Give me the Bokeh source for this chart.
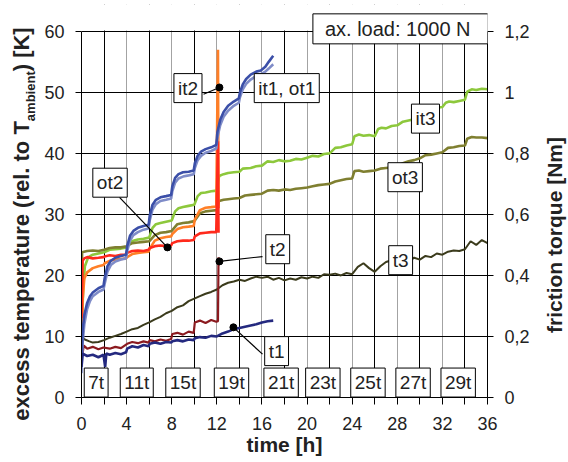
from bokeh.plotting import figure
from bokeh.models import Range1d, LinearAxis, FixedTicker, Grid, Label, BoxAnnotation, Div
from bokeh.layouts import row
from bokeh.embed import file_html
from bokeh.resources import INLINE

FONT = "Liberation Sans"

# ---------------- data ----------------
# series 1 (it1, ot1) -- excess temperature [K]
hours_1 = [0, 0.1, 0.25, 0.5, 0.75, 1.0, 1.5, 1.95, 2.05, 2.3, 2.6, 3.0, 3.5, 3.95,
           4.05, 4.3, 4.6, 5.0, 5.5, 5.95, 6.05, 6.3, 6.6, 7.0, 7.5, 7.95,
           8.05, 8.3, 8.6, 9.0, 9.5, 9.95, 10.05, 10.3, 10.6, 11.0, 11.5, 11.95,
           12.05, 12.3, 12.6, 13.0, 13.5, 13.95, 14.05, 14.3, 14.6, 15.0, 15.5, 15.9,
           16.3, 16.6, 17.0]
it1 = [6, 11, 13.5, 15.5, 16.6, 17.2, 17.9, 18.3, 19.5, 21.5, 22.4, 22.9, 23.2, 23.4,
       24.8, 26.5, 27.3, 27.8, 28.1, 28.3, 29.8, 31.6, 32.4, 32.8, 33.0, 33.2,
       34.6, 36.0, 36.6, 36.9, 37.0, 37.2, 38.4, 39.6, 40.3, 40.7, 41.0, 41.4,
       43.5, 45.5, 46.8, 47.8, 48.5, 49.0, 50.0, 51.3, 52.2, 52.9, 53.4, 53.6,
       54.2, 55.0, 56.0]
ot1 = [4, 9, 12, 14.5, 15.8, 16.6, 17.3, 17.7, 18.6, 20.6, 21.7, 22.3, 22.6, 22.8,
       24.0, 25.7, 26.6, 27.1, 27.5, 27.7, 29.0, 30.8, 31.7, 32.2, 32.4, 32.6,
       33.8, 35.2, 35.9, 36.2, 36.4, 36.6, 37.6, 38.9, 39.6, 40.1, 40.4, 40.8,
       42.6, 44.6, 46.0, 47.0, 47.8, 48.3, 49.2, 50.5, 51.4, 52.1, 52.7, 53.0,
       53.4, 53.9, 54.6]

# friction torque t1 [Nm]
hours_t1 = [0, 0.1, 0.5, 1.0, 1.5, 1.95, 2.1, 2.2, 2.5, 3.0, 3.5, 3.95, 4.05, 4.5, 5.0,
            5.5, 5.95, 6.05, 6.5, 7.0, 7.5, 7.95, 8.05, 8.5, 9.0, 9.5, 9.95, 10.05,
            10.5, 11.0, 11.5, 12.0, 12.5, 13.0, 13.5, 14.0, 14.5, 15.0, 15.5, 16.0,
            16.5, 17.0]
t1 = [0.100, 0.144, 0.136, 0.140, 0.132, 0.140, 0.100, 0.144, 0.140, 0.146, 0.142,
      0.148, 0.160, 0.168, 0.164, 0.172, 0.168, 0.176, 0.180, 0.176, 0.182, 0.180,
      0.184, 0.188, 0.184, 0.190, 0.188, 0.194, 0.198, 0.196, 0.202, 0.200, 0.210,
      0.216, 0.224, 0.228, 0.232, 0.236, 0.240, 0.246, 0.250, 0.252]

# series 2 (it2, ot2) -- excess temperature [K]
hours_2 = [0, 0.1, 0.25, 0.5, 1.0, 1.5, 1.95, 2.05, 2.5, 3.0, 3.5, 3.95, 4.05, 4.5,
           5.0, 5.5, 5.95, 6.05, 6.5, 7.0, 7.5, 7.95, 8.05, 8.5, 9.0, 9.5, 9.95,
           10.05, 10.5, 11.0, 11.5, 11.95, 12.1, 12.15]
it2 = [5, 16, 19.5, 20.5, 21.2, 21.5, 21.7, 22.0, 22.4, 22.6, 22.7, 22.8, 23.0, 23.5,
       23.7, 23.8, 23.9, 24.4, 25.7, 26.1, 26.3, 26.4, 26.8, 27.6, 27.9, 28.0, 28.1,
       29.2, 30.7, 31.1, 31.2, 31.3, 57.0, 31.0]
ot2 = [13, 22.4, 22.8, 23.0, 22.8, 22.9, 23.0, 23.1, 23.3, 23.2, 23.4, 23.4, 23.7, 24.0,
       24.1, 24.0, 24.2, 24.5, 24.8, 24.9, 24.8, 24.9, 25.3, 25.6, 25.7, 25.7, 25.8,
       26.4, 26.9, 27.0, 27.1, 27.1, 42.0, 27.0]

# friction torque t2 [Nm]
hours_t2 = [0, 0.2, 0.5, 1.0, 1.5, 1.95, 2.5, 3.0, 3.5, 4.05, 4.5, 5.0, 5.5, 5.95, 6.05,
            6.5, 7.0, 7.5, 7.95, 8.05, 8.5, 9.0, 9.5, 9.95, 10.05, 10.5, 11.0, 11.5,
            11.95, 12.1, 12.15]
t2 = [0.120, 0.170, 0.160, 0.166, 0.158, 0.164, 0.160, 0.166, 0.162, 0.176, 0.182,
      0.178, 0.184, 0.180, 0.188, 0.184, 0.190, 0.186, 0.192, 0.208, 0.212, 0.206,
      0.216, 0.212, 0.246, 0.252, 0.244, 0.254, 0.248, 0.250, 0.460]

# series 3 -- it3 [K]
hours_it3 = [0, 0.05, 0.15, 0.3, 0.6, 1.0, 1.5, 2.0, 2.5, 3.0, 3.5, 4.0, 4.3, 4.6, 5.0,
             5.5, 6.0, 6.3, 6.6, 7.0, 7.5, 8.0, 8.3, 8.6, 9.0, 9.5, 10.0, 10.3, 10.6,
             11.0, 11.5, 12.0, 12.2, 12.6, 13.0, 13.5, 14.0, 14.3, 15.0, 15.5, 16.0,
             16.5, 17.0, 17.5, 18.0, 18.5, 19.0, 19.5, 20.0, 20.5, 21.0, 21.5, 22.0,
             22.5, 23.0, 23.5, 24.0, 24.2, 24.6, 25.0, 25.5, 26.0, 26.3, 26.6, 27.0,
             27.5, 28.0, 28.5, 29.0, 29.5, 30.0, 30.3, 30.6, 31.0, 31.5, 32.0, 32.3,
             32.6, 33.0, 33.5, 34.0, 34.2, 34.6, 35.0, 35.5, 36.0]
it3 = [5, 12, 18, 21.5, 23.0, 23.4, 23.6, 23.8, 24.2, 24.3, 24.4, 24.6, 25.4, 25.7, 25.9,
       26.0, 26.2, 27.8, 28.4, 28.6, 28.8, 29.0, 30.5, 31.0, 31.2, 31.4, 31.6, 33.0, 33.5,
       33.6, 33.8, 33.9, 36.3, 36.6, 36.8, 36.9, 37.0, 37.5, 37.6, 37.9, 38.0,
       38.7, 38.6, 38.9, 38.7, 38.8, 39.1, 39.0, 39.3, 39.6, 39.5, 39.9, 40.0,
       40.9, 41.0, 41.3, 41.5, 42.8, 43.1, 42.9, 43.0, 42.8, 44.0, 44.2, 44.1,
       44.5, 44.6, 45.2, 45.4, 45.6, 45.8, 47.0, 47.3, 47.2, 47.5, 47.6, 48.3,
       48.5, 48.4, 48.6, 48.8, 50.1, 50.5, 50.4, 50.6, 50.5]

# series 3 -- ot3 [K]
hours_ot3 = [0, 0.05, 0.5, 1.0, 1.5, 2.0, 2.5, 3.0, 3.5, 4.0, 4.5, 5.0, 5.5, 6.0, 6.5,
             7.0, 7.5, 8.0, 8.5, 9.0, 9.5, 10.0, 10.5, 11.0, 11.5, 12.0, 12.2, 12.6,
             13.0, 13.5, 14.0, 14.5, 15.0, 15.5, 16.0, 16.5, 17.0, 17.5, 18.0, 18.5,
             19.0, 19.5, 20.0, 20.5, 21.0, 21.5, 22.0, 22.5, 23.0, 23.5, 24.0, 24.2,
             24.6, 25.0, 25.5, 26.0, 26.5, 27.0, 27.5, 28.0, 28.5, 29.0, 29.5, 30.0,
             30.5, 31.0, 31.5, 32.0, 32.5, 33.0, 33.5, 34.0, 34.2, 34.6, 35.0, 35.5, 36.0]
ot3 = [10, 23.8, 24.0, 24.1, 24.0, 24.2, 24.5, 24.6, 24.6, 24.8, 25.3, 25.4, 25.5, 25.6,
       26.6, 27.0, 27.1, 27.3, 28.4, 28.6, 28.7, 28.9, 30.2, 30.5, 30.6, 30.7, 32.2,
       32.4, 32.5, 32.6, 32.7, 33.1, 33.2, 33.3, 33.4, 33.9, 34.0, 33.9, 34.1, 34.0,
       34.2, 34.3, 34.4, 34.6, 34.8, 34.9, 35.0, 35.4, 35.6, 35.8, 35.9, 37.1,
       37.2, 37.0, 37.1, 37.2, 37.5, 37.6, 37.7, 37.8, 38.4, 38.7, 38.9, 39.2,
       39.7, 39.8, 40.0, 40.2, 40.9, 41.0, 41.2, 41.3, 42.4, 42.7, 42.6, 42.6, 42.5]

# friction torque t3 [Nm]
hours_t3 = [0, 0.3, 0.7, 1.0, 1.5, 2.0, 2.5, 3.0, 3.5, 4.0, 4.5, 5.0, 5.5, 6.0, 6.5,
            7.0, 7.5, 8.0, 8.5, 9.0, 9.5, 10.0, 10.5, 11.0, 11.5, 12.0, 12.5, 13.0,
            13.5, 14.0, 14.5, 15.0, 15.5, 16.0, 16.5, 17.0, 17.5, 18.0, 18.5, 19.0,
            19.5, 20.0, 20.5, 21.0, 21.5, 22.0, 22.5, 23.0, 23.5, 24.0, 24.5, 25.0,
            25.5, 26.0, 26.5, 27.0, 27.5, 28.0, 28.5, 29.0, 29.5, 30.0, 30.5, 31.0,
            31.5, 32.0, 32.5, 33.0, 33.5, 34.0, 34.5, 35.0, 35.5, 36.0]
t3 = [0.200, 0.190, 0.184, 0.180, 0.182, 0.188, 0.196, 0.202, 0.208, 0.216,
      0.224, 0.228, 0.238, 0.246, 0.256, 0.264, 0.276, 0.284, 0.296, 0.302,
      0.316, 0.324, 0.332, 0.340, 0.346, 0.354, 0.368, 0.376, 0.380, 0.386,
      0.382, 0.390, 0.396, 0.392, 0.396, 0.386, 0.392, 0.384, 0.390, 0.386,
      0.394, 0.390, 0.396, 0.392, 0.404, 0.402, 0.406, 0.400, 0.408, 0.404,
      0.428, 0.440, 0.424, 0.412, 0.430, 0.444, 0.450, 0.456, 0.442, 0.448,
      0.458, 0.452, 0.464, 0.460, 0.472, 0.468, 0.478, 0.482, 0.480, 0.486,
      0.512, 0.500, 0.516, 0.506]

# axes
x_ticks = [0, 4, 8, 12, 16, 20, 24, 28, 32, 36]
x_minor = [2, 6, 10, 14, 18, 22, 26, 30, 34]
y_ticks = [0, 10, 20, 30, 40, 50, 60]
torque_ticks = [0, 0.2, 0.4, 0.6, 0.8, 1.0, 1.2]
torque_tick_labels = ["0", "0,2", "0,4", "0,6", "0,8", "1", "1,2"]

# load-step labels along the bottom
step_labels = ["7t", "11t", "15t", "19t", "21t", "23t", "25t", "27t", "29t"]
step_label_hours = [1.3, 4.9, 9.0, 13.3, 17.7, 21.4, 25.4, 29.4, 33.4]

# ---------------- figure ----------------
W_LEFT, W_RIGHT, H = 40, 30, 462
Y_TOP = 64.4      # frame reaches above 60 so the load box is not clipped
p = figure(width=568 - W_LEFT - W_RIGHT, height=H,
           x_range=Range1d(0, 36), y_range=Range1d(0, Y_TOP),
           output_backend="svg", toolbar_location=None,
           min_border_left=41, min_border_right=51, min_border_top=4, min_border_bottom=65)
p.extra_y_ranges = {"torque": Range1d(0, Y_TOP / 50.0)}
p.outline_line_color = None
p.background_fill_color = "white"
p.border_fill_color = "white"

# grids
p.xgrid.ticker = FixedTicker(ticks=[4, 8, 12, 16, 20, 24, 28, 32])
p.xgrid.grid_line_color = "#a3a3a3"
p.xgrid.grid_line_width = 1
p.add_layout(Grid(dimension=0, ticker=FixedTicker(ticks=x_minor),
                  grid_line_color="black", grid_line_width=1))
p.ygrid.ticker = FixedTicker(ticks=[10, 20, 30, 40, 50, 60])
p.ygrid.grid_line_color = "black"
p.ygrid.grid_line_width = 1
# white mask above the top border (y > 60)
p.add_layout(BoxAnnotation(bottom=60.15, fill_color="white", fill_alpha=1.0,
                           line_color=None, level="underlay"))

def style_axis(ax):
    ax.axis_line_color = "black"
    ax.major_tick_line_color = "black"
    ax.minor_tick_line_color = "black"
    ax.major_tick_in = 0
    ax.major_tick_out = 6
    ax.minor_tick_in = 0
    ax.major_label_text_font = FONT
    ax.major_label_text_font_size = "18px"
    ax.major_label_text_color = "#222222"

xa = p.xaxis[0]
xa.ticker = FixedTicker(ticks=x_ticks, minor_ticks=x_minor)
style_axis(xa)
xa.major_tick_out = 7
xa.minor_tick_out = 7
xa.major_label_standoff = 12
xa.axis_label = "time [h]"
xa.axis_label_text_font = FONT
xa.axis_label_text_font_size = "21px"
xa.axis_label_text_font_style = "bold"
xa.axis_label_text_color = "#222222"
xa.axis_label_standoff = 0

ya = p.yaxis[0]
ya.ticker = FixedTicker(ticks=y_ticks, minor_ticks=[])
style_axis(ya)
ya.minor_tick_out = 0
ya.major_label_standoff = 11
ya.bounds = (0, 60)

ra = LinearAxis(y_range_name="torque",
                ticker=FixedTicker(ticks=torque_ticks, minor_ticks=[]),
                major_label_overrides=dict(zip(torque_ticks, torque_tick_labels)))
style_axis(ra)
ra.minor_tick_out = 0
ra.major_label_standoff = 11
ra.bounds = (0, 1.2)
p.add_layout(ra, "right")

# ---------------- series ----------------
LW = 2.6
p.line(hours_it3, it3, color="#8dc83c", line_width=LW)
p.line(hours_ot3, ot3, color="#7f7f30", line_width=LW)
p.line(hours_t3, t3, color="#3b3b1c", line_width=2, y_range_name="torque")
p.line(hours_2, it2, color="#ff7f27", line_width=LW)
p.line(hours_2, ot2, color="#ff2a1c", line_width=LW)
p.line(hours_t2, t2, color="#8b1a1f", line_width=2.2, y_range_name="torque")
p.line(hours_1, ot1, color="#7f8cc8", line_width=LW)
p.line(hours_1, it1, color="#3b4fa8", line_width=LW)
p.line(hours_t1, t1, color="#24297f", line_width=2.6, y_range_name="torque")

# leader lines + dots
leaders = [((10.82, 49.7), (12.23, 50.8)),
           ((3.37, 32.8), (7.62, 24.6)),
           ((16.05, 23.1), (12.23, 22.3)),
           ((16.05, 7.1), (13.47, 11.5))]
for (xa0, ya0), (xd, yd) in leaders:
    p.line([xa0, xd], [ya0, yd], color="black", line_width=1.2)
    p.scatter([xd], [yd], size=7, color="black")

# ---------------- annotations ----------------
def box(text, x, y, size="19px", pad=(4, 4)):
    p.add_layout(Label(x=x, y=y, text=text, text_align="center", text_baseline="middle",
                       text_font=FONT, text_font_size=size, text_color="#222222",
                       border_line_color="black", border_line_width=1,
                       background_fill_color="white",
                       padding=dict(left=pad[0], right=pad[0], top=pad[1], bottom=pad[1])))

box("it2", 9.44, 50.7)
box("it1, ot1", 18.2, 50.7)
box("ot2", 2.53, 35.2)
box("t2", 17.4, 24.3)
box("t1", 17.3, 7.6)
box("it3", 30.5, 45.7)
box("ot3", 28.7, 36.1)
box("t3", 28.3, 22.5)
for lab, h in zip(step_labels, step_label_hours):
    box(lab, h, 2.45)

p.add_layout(Label(x=36, y=60, x_offset=-87, y_offset=2.5, text="ax. load:  1000 N",
                   text_align="center", text_baseline="middle",
                   text_font=FONT, text_font_size="20px", text_color="#222222",
                   border_line_color="black", border_line_width=1,
                   background_fill_color="white",
                   padding=dict(left=12, right=12, top=4, bottom=4)))

# ---------------- rotated side titles (HTML, so the subscript is real text) ----------------
rot = ("position:absolute;transform:translate(-50%,-50%) rotate(-90deg);white-space:nowrap;"
       "font-family:'Liberation Sans';font-weight:bold;color:#222222;line-height:1;")
left_html = ('<div style="position:relative;width:%dpx;height:%dpx;">'
             '<div style="%sleft:24px;top:224px;font-size:22px;">'
             'excess temperature (rel. to T<sub style="font-size:13px;">ambient</sub>) [K]'
             '</div></div>') % (W_LEFT, H, rot)
right_html = ('<div style="position:relative;width:%dpx;height:%dpx;">'
              '<div style="%sleft:16px;top:235px;font-size:21px;">friction torque [Nm]'
              '</div></div>') % (W_RIGHT, H, rot)
left_div = Div(text=left_html, width=W_LEFT, height=H, margin=0)
right_div = Div(text=right_html, width=W_RIGHT, height=H, margin=0)

layout = row(left_div, p, right_div, spacing=0)
open("out.html", "w").write(file_html(layout, INLINE))
